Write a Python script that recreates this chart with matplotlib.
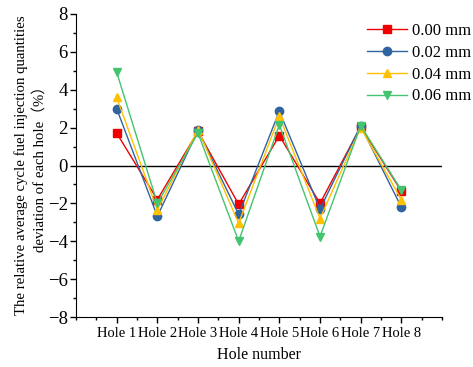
import matplotlib
matplotlib.use('Agg')
import matplotlib.pyplot as plt
from matplotlib.ticker import MultipleLocator

plt.rcParams['font.family'] = ['Liberation Serif', 'Noto Sans CJK SC', 'DejaVu Serif']

holes = ['Hole 1', 'Hole 2', 'Hole 3', 'Hole 4', 'Hole 5', 'Hole 6', 'Hole 7', 'Hole 8']
labels = ['0.00 mm', '0.02 mm', '0.04 mm', '0.06 mm']
dev_000 = [1.71, -1.8, 1.8, -2.05, 1.58, -2.0, 2.05, -1.35]
dev_002 = [3.0, -2.68, 1.85, -2.58, 2.87, -2.3, 2.1, -2.2]
dev_004 = [3.6, -2.35, 1.9, -3.05, 2.6, -2.8, 2.0, -1.8]
dev_006 = [4.93, -2.0, 1.71, -4.0, 2.15, -3.75, 2.1, -1.3]

series = [dev_000, dev_002, dev_004, dev_006]
colors = ['#f00000', '#2f64a0', '#ffc000', '#44c46e']
markers = ['s', 'o', '^', 'v']


def main():
    fig = plt.figure(figsize=(4.73, 3.67), dpi=100)
    ax = fig.add_axes([76 / 473, 1 - 317 / 367, (442 - 76) / 473, (317 - 14) / 367])

    x = list(range(1, len(holes) + 1))
    for vals, lab, c, m in zip(series, labels, colors, markers):
        ax.plot(x, vals, color=c, marker=m, markersize=6, linewidth=1, label=lab)

    ax.axhline(0, color='black', linewidth=1, zorder=0)

    ax.set_xlim(0, 9)
    ax.set_ylim(-8, 8)
    ax.set_xticks(x)
    ax.set_xticklabels(holes)
    ax.xaxis.set_minor_locator(MultipleLocator(0.5))
    ax.yaxis.set_major_locator(MultipleLocator(2))
    ax.yaxis.set_minor_locator(MultipleLocator(1))
    ax.tick_params(axis='both', which='major', direction='out', length=4, width=1)
    ax.tick_params(axis='both', which='minor', direction='out', length=2, width=1)
    ax.tick_params(axis='y', labelsize=13.5, pad=2)
    ax.tick_params(axis='x', labelsize=10.5, pad=3)
    for s in ['top', 'right']:
        ax.spines[s].set_visible(False)

    ax.set_xlabel('Hole number', fontsize=11.5, labelpad=5)
    ax.set_ylabel('The relative average cycle fuel injection quantities\ndeviation of each hole\uff08%\uff09',
                  fontsize=10.6, labelpad=0, linespacing=1.55)

    ax.legend(loc='upper right', bbox_to_anchor=(1.12, 1.02), frameon=False,
              fontsize=12, handlelength=2.4, handletextpad=0.3, labelspacing=0.35)

    fig.savefig('out.png', dpi=100)


if __name__ == '__main__':
    main()
